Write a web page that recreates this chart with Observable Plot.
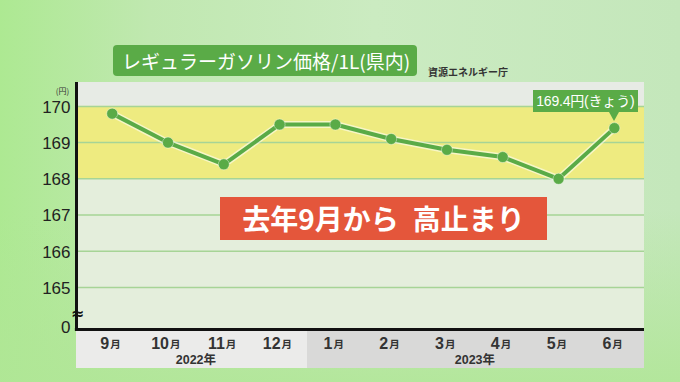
<!DOCTYPE html>
<html><head><meta charset="utf-8">
<script src="https://cdn.jsdelivr.net/npm/d3@7"></script>
<script src="https://cdn.jsdelivr.net/npm/@observablehq/plot@0.6"></script>
<style>
html,body{margin:0;padding:0;}
body{width:680px;height:382px;overflow:hidden;
  background:
    linear-gradient(180deg, rgba(176,230,150,0) 55%, rgba(176,230,150,0.85) 100%),
    linear-gradient(90deg,#ade992 0%,#c0e8b0 22%,#cbebc1 55%,#c4e7bb 100%);}
#wrap{position:relative;width:680px;height:382px;}
#wrap svg{position:absolute;left:0;top:0;}
.title{position:absolute;left:113px;top:45px;width:304px;height:31px;background:#5aab47;border-radius:4px;
  color:#fff;font-family:"Noto Sans CJK JP",sans-serif;font-size:19px;line-height:31px;padding-left:9px;box-sizing:border-box;white-space:nowrap;}
.source{position:absolute;left:428px;top:64px;font-family:"Noto Sans CJK JP",sans-serif;font-weight:700;font-size:10px;color:#333;white-space:nowrap;}
.note{position:absolute;left:220px;top:197px;width:327px;height:43px;background:#e4563b;color:#fff;
  font-family:"Noto Sans CJK JP",sans-serif;font-weight:700;font-size:28px;line-height:43px;text-align:center;white-space:nowrap;}
.callout{position:absolute;height:22px;width:105px;background:#5aab47;color:#fff;
  font-family:"Liberation Sans","Noto Sans CJK JP",sans-serif;font-size:14px;line-height:22px;text-align:center;white-space:nowrap;letter-spacing:-0.2px;}
.callout:after{content:"";position:absolute;left:var(--tip);top:22px;margin-left:-5px;border-left:5px solid transparent;border-right:5px solid transparent;border-top:9px solid #5aab47;}
</style>
</head><body>
<div id="wrap"></div>
<script>
// ---- data ----
const monthNums = ["9","10","11","12","1","2","3","4","5","6"];
const prices = [169.8, 169.0, 168.4, 169.5, 169.5, 169.1, 168.8, 168.6, 168.0, 169.4];
const yearLabels = ["2022年", "2023年"];
const yearMonthCount = [4, 6];
const yTicks = [165, 166, 167, 168, 169, 170];
const highlightBand = [168, 170];
const latestLabel = "169.4円(きょう)";
const titleText = "レギュラーガソリン価格/1L(県内)";
const sourceText = "資源エネルギー庁";
const noteText = "去年9月から\u2002高止まり";

// ---- layout constants ----
const X0 = -0.64, X1 = 9.54;
const BASE = 163.84, TOP = 170.66, BOTTOM = 162.76;
const FONT = "'Liberation Sans', 'Noto Sans CJK JP', sans-serif";
const JP = "'Noto Sans CJK JP', sans-serif";

const idx = prices.map((_, i) => i);
const yearCenters = [];
let start = 0;
yearMonthCount.forEach(n => { yearCenters.push(start + (n - 1) / 2); start += n; });
const yearBoundary = yearMonthCount[0] - 0.5;
const oneDigit = idx.filter(i => monthNums[i].length === 1);
const twoDigit = idx.filter(i => monthNums[i].length === 2);

const chart = Plot.plot({
  width: 680, height: 382,
  marginLeft: 76, marginRight: 36, marginTop: 82, marginBottom: 14,
  style: {background: "transparent", fontFamily: FONT, overflow: "visible"},
  x: {type: "linear", domain: [X0, X1], axis: null},
  y: {domain: [BOTTOM, TOP], axis: null},
  marks: [
    // panel
    Plot.rect([0], {x1: X0, x2: X1, y1: BASE, y2: TOP, fill: "#e4eedc"}),
    Plot.rect([0], {x1: X0, x2: X1, y1: highlightBand[1], y2: TOP, fill: "#e7ebe5"}),
    Plot.rect([highlightBand], {x1: X0, x2: X1, y1: d => d[0], y2: d => d[1], fill: "#eeeb80"}),
    // x label boxes
    Plot.rect([0], {x1: X0, x2: yearBoundary, y1: BOTTOM, y2: BASE, fill: "#ebebea"}),
    Plot.rect([0], {x1: yearBoundary, x2: X1, y1: BOTTOM, y2: BASE, fill: "#d9d9d8"}),
    // grid
    Plot.ruleY(yTicks, {x1: X0, x2: X1, stroke: "#a6d496", strokeWidth: 1.5}),
    // axis lines
    Plot.ruleX([X0], {y1: BASE, y2: TOP, stroke: "#111", strokeWidth: 3}),
    Plot.ruleY([BASE], {x1: X0 - 0.02, x2: X1, stroke: "#111", strokeWidth: 3}),
    // y labels
    Plot.text(yTicks, {x: X0, y: d => d, text: d => String(d), dx: -6, dy: 1, textAnchor: "end", fontSize: 17, fill: "#222"}),
    Plot.text([0], {x: X0, y: BASE, text: () => "0", dx: -6, dy: -2, textAnchor: "end", fontSize: 17, fill: "#222"}),
    Plot.text([0], {x: X0, y: TOP, text: () => "(円)", dx: -14, dy: 9, fontSize: 8, fill: "#333", fontFamily: JP}),
    Plot.text([0], {x: X0, y: BASE, text: () => "≈", dx: 1, dy: -16, fontSize: 16, fill: "#111", fontWeight: "bold", fontFamily: "'DejaVu Sans'"}),
    // month labels
    Plot.text(oneDigit, {x: d => d, y: BASE, text: d => monthNums[d], dx: -3, dy: 14, textAnchor: "end", fontSize: 16, fontWeight: "bold", fill: "#333"}),
    Plot.text(oneDigit, {x: d => d, y: BASE, text: () => "月", dx: -2, dy: 15, textAnchor: "start", fontSize: 10.5, fontWeight: "bold", fill: "#333", fontFamily: JP}),
    Plot.text(twoDigit, {x: d => d, y: BASE, text: d => monthNums[d], dx: 1, dy: 14, textAnchor: "end", fontSize: 16, fontWeight: "bold", fill: "#333"}),
    Plot.text(twoDigit, {x: d => d, y: BASE, text: () => "月", dx: 2, dy: 15, textAnchor: "start", fontSize: 10.5, fontWeight: "bold", fill: "#333", fontFamily: JP}),
    Plot.text(yearLabels, {x: (d, i) => yearCenters[i], y: BASE, text: d => d, dy: 31, fontSize: 12.5, fontWeight: "bold", fill: "#333"}),
    // line
    Plot.lineY(prices, {x: (d, i) => i, y: d => d, stroke: "#ffffff", strokeOpacity: 0.55, strokeWidth: 7}),
    Plot.lineY(prices, {x: (d, i) => i, y: d => d, stroke: "#5aab47", strokeWidth: 4}),
    Plot.dot(prices, {x: (d, i) => i, y: d => d, r: 5.5, fill: "#5aab47", stroke: "#ffffff", strokeOpacity: 0.4, strokeWidth: 1})
  ]
});

const wrap = document.getElementById("wrap");
wrap.appendChild(chart);

const t = document.createElement("div"); t.className = "title"; t.textContent = titleText; wrap.appendChild(t);
const s = document.createElement("div"); s.className = "source"; s.textContent = sourceText; wrap.appendChild(s);
const n = document.createElement("div"); n.className = "note"; n.textContent = noteText; wrap.appendChild(n);

const last = prices.length - 1;
const px = chart.scale("x").apply(last);
const py = chart.scale("y").apply(prices[last]);
const c = document.createElement("div"); c.className = "callout"; c.textContent = latestLabel;
const left = px - 81;
c.style.left = left + "px";
c.style.top = (py - 38) + "px";
c.style.setProperty("--tip", (px - left) + "px");
wrap.appendChild(c);
</script>
</body></html>
